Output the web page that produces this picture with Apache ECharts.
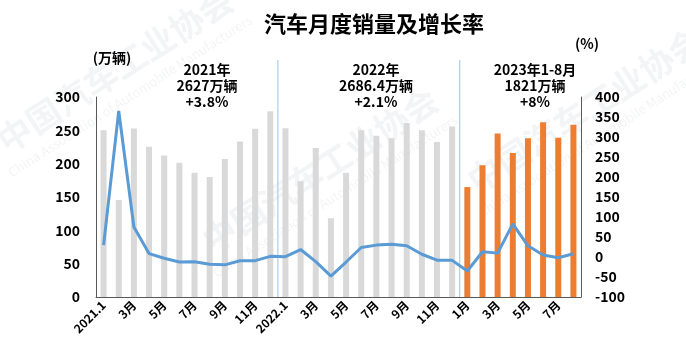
<!DOCTYPE html>
<html>
<head>
<meta charset="utf-8">
<script src="https://cdn.jsdelivr.net/npm/echarts@6/dist/echarts.min.js"></script>
<style>
  html, body { margin: 0; padding: 0; background: #fff; }
  #main { width: 686px; height: 353px; }
</style>
</head>
<body>
<div id="main"></div>
<script>
// months 2021.1 - 2023.8
var months = [
  '2021.1', '2月', '3月', '4月', '5月', '6月', '7月', '8月', '9月', '10月', '11月', '12月',
  '2022.1', '2月', '3月', '4月', '5月', '6月', '7月', '8月', '9月', '10月', '11月', '12月',
  '1月', '2月', '3月', '4月', '5月', '6月', '7月', '8月'
];
// 销量 (万辆)
var sales = [
  250.3, 145.5, 252.6, 225.2, 212.1, 201.2, 186.3, 179.9, 207.1, 233.3, 252.2, 278.6,
  253.1, 173.7, 223.4, 118.1, 186.2, 250.2, 242.0, 238.3, 261.0, 250.3, 232.6, 255.6,
  164.9, 197.6, 245.1, 215.9, 238.2, 262.2, 238.7, 258.2
];
// 同比增长率 (%)
var growth = [
  29.5, 365, 74.9, 8.6, -3.1, -12.4, -11.9, -18.1, -19.6, -9.4, -9.1, 1.6,
  0.9, 18.7, -11.7, -47.6, -12.6, 23.8, 29.7, 32.1, 28.1, 6.9, -7.9, -8.4,
  -35.0, 13.2, 9.7, 82.7, 27.9, 4.8, -1.9, 8.2
];
var yearNotes = [
  '2021年\n2627万辆\n+3.8%',
  '2022年\n2686.4万辆\n+2.1%',
  '2023年1-8月\n1821万辆\n+8%'
];

var FONT = '"Noto Sans CJK SC", "Noto Sans", sans-serif';
var chart = echarts.init(document.getElementById('main'));

var option = {
  animation: false,
  title: {
    text: '汽车月度销量及增长率',
    left: 259,
    top: 8,
    textStyle: { fontSize: 22, fontWeight: 'bold', color: '#000', fontFamily: FONT }
  },
  grid: { left: 96, right: 105, top: 97, bottom: 56 },
  xAxis: {
    type: 'category',
    data: months,
    axisLine: { lineStyle: { color: '#595959', width: 1 } },
    axisTick: { show: false },
    axisLabel: {
      interval: 1,
      rotate: 45,
      margin: 6,
      color: '#000',
      fontSize: 12,
      fontWeight: 'bold',
      fontFamily: FONT
    }
  },
  yAxis: [{
    type: 'value',
    min: 0, max: 300, interval: 50,
    splitLine: { show: false },
    axisLine: { show: true, lineStyle: { color: '#595959' } },
    axisTick: { show: false },
    axisLabel: { margin: 16, color: '#000', fontSize: 14, fontWeight: 'bold', fontFamily: FONT }
  }, {
    type: 'value',
    min: -100, max: 400, interval: 50,
    splitLine: { show: false },
    axisLine: { show: true, lineStyle: { color: '#595959' } },
    axisTick: { show: false },
    axisLabel: { margin: 14, color: '#000', fontSize: 14, fontWeight: 'bold', fontFamily: FONT }
  }],
  series: [{
    name: '销量',
    type: 'bar',
    barWidth: 6,
    data: sales,
    itemStyle: {
      color: function (p) { return p.dataIndex >= 24 ? '#ed7d31' : '#d9d9d9'; }
    },
    z: 2
  }, {
    name: '增长率',
    type: 'line',
    yAxisIndex: 1,
    data: growth,
    showSymbol: false,
    lineStyle: { color: '#5b9bd5', width: 3 },
    z: 3
  }]
};
chart.setOption(option);

// watermark + dividers + notes
var gfx = [];
var marks = [
  { x: 115, y: 70 }, { x: 320, y: 170 }, { x: 585, y: 110 }
];
marks.forEach(function (m) {
  gfx.push({
    type: 'text', x: m.x, y: m.y, rotation: Math.PI / 5.5, z: 0, silent: true,
    style: { text: '中国汽车工业协会', fill: 'rgba(200,205,215,0.22)', font: 'bold 34px ' + FONT, align: 'center', verticalAlign: 'middle' }
  });
  gfx.push({
    type: 'text', x: m.x + 15, y: m.y + 26, rotation: Math.PI / 5.5, z: 0, silent: true,
    style: { text: 'China Association of Automobile Manufacturers', fill: 'rgba(200,205,215,0.22)', font: '13px ' + FONT, align: 'center', verticalAlign: 'middle' }
  });
});

var baseY = chart.convertToPixel({ yAxisIndex: 0 }, 0);
var step = chart.convertToPixel({ xAxisIndex: 0 }, 1) - chart.convertToPixel({ xAxisIndex: 0 }, 0);
[12, 24].forEach(function (i) {
  var x = chart.convertToPixel({ xAxisIndex: 0 }, i) - step / 2;
  gfx.push({
    type: 'line', z: 1, silent: true,
    shape: { x1: x, y1: 60, x2: x, y2: baseY },
    style: { stroke: '#9dc3e6', lineWidth: 1 }
  });
});

var noteX = [207, 376, 535];
yearNotes.forEach(function (t, k) {
  gfx.push({
    type: 'text', z: 5,
    style: {
      text: t, x: noteX[k], y: 62, align: 'center', verticalAlign: 'top',
      font: 'bold 14px ' + FONT, lineHeight: 16, fill: '#000'
    }
  });
});

gfx.push({
  type: 'text', z: 5,
  style: { text: '(万辆)', x: 112, y: 58, align: 'center', verticalAlign: 'middle', font: 'bold 14px ' + FONT, fill: '#000' }
});
gfx.push({
  type: 'text', z: 5,
  style: { text: '(%)', x: 587, y: 44, align: 'center', verticalAlign: 'middle', font: 'bold 14px ' + FONT, fill: '#000' }
});

chart.setOption({ graphic: gfx });
</script>
</body>
</html>
